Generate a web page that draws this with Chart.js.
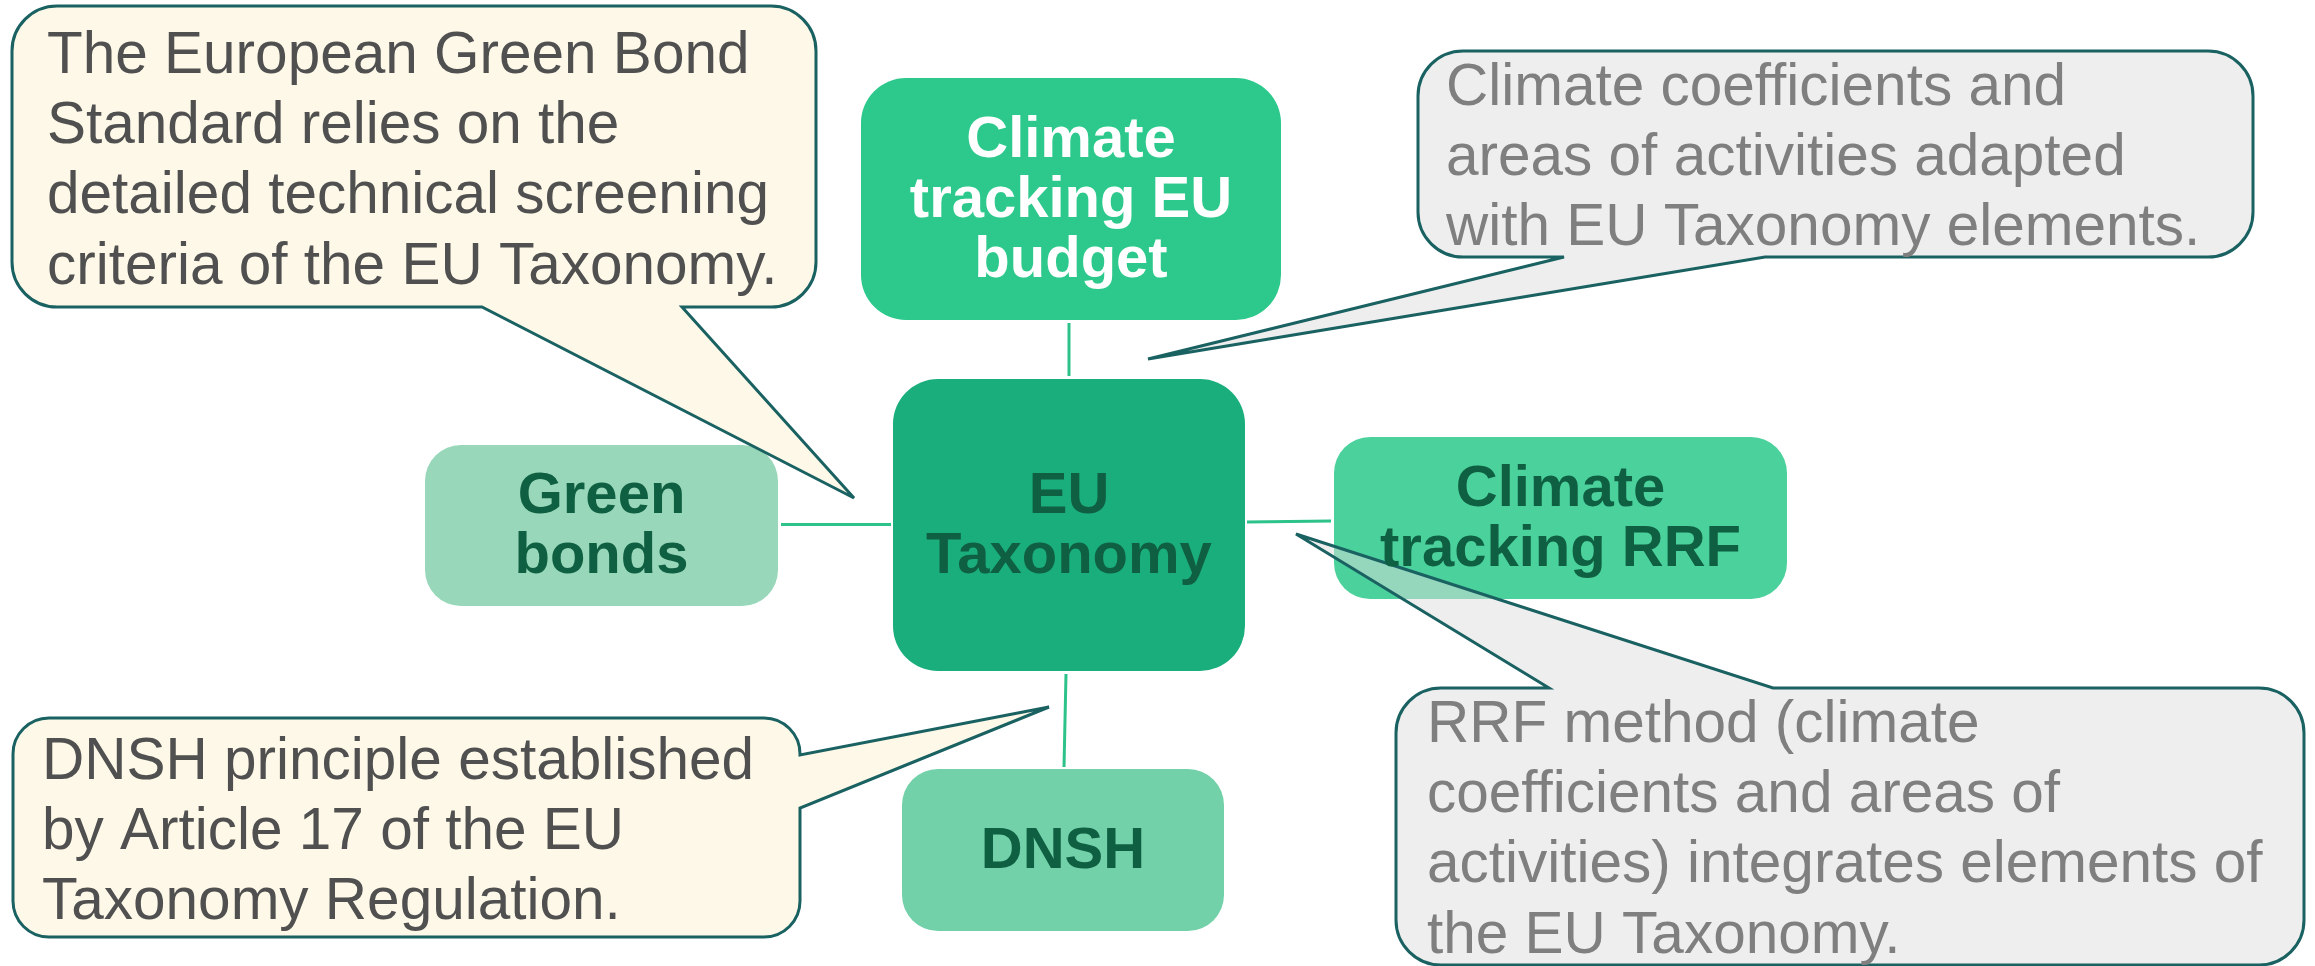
<!DOCTYPE html>
<html>
<head>
<meta charset="utf-8">
<script src="https://cdn.jsdelivr.net/npm/chart.js@4"></script>
<style>
  html, body { margin: 0; padding: 0; background: #ffffff; }
  canvas { display: block; }
</style>
</head>
<body>
<canvas id="c" width="2315" height="966"></canvas>
<script>
// ---------- content ----------
const nodeNames = ["EU Taxonomy", "Climate tracking EU budget", "Green bonds", "Climate tracking RRF", "DNSH"];
const nodeLines = [
  ["EU", "Taxonomy"],
  ["Climate", "tracking EU", "budget"],
  ["Green", "bonds"],
  ["Climate", "tracking RRF"],
  ["DNSH"]
];
const calloutLines = [
  ["The European Green Bond", "Standard relies on the", "detailed technical screening", "criteria of the EU Taxonomy."],
  ["Climate coefficients and", "areas of activities adapted", "with EU Taxonomy elements."],
  ["DNSH principle established", "by Article 17 of the EU", "Taxonomy Regulation."],
  ["RRF method (climate", "coefficients and areas of", "activities) integrates elements of", "the EU Taxonomy."]
];
// links: hub (0) to each satellite node
const linkFrom = [0, 0, 0, 0];
const linkTo   = [1, 2, 3, 4];

// ---------- layout (diagram coordinates, 0..2315 x 0..966) ----------
const nodeBoxes = [ // [left, top, right, bottom, radius]
  [893, 379, 1245, 671, 45],
  [861, 78, 1281, 320, 45],
  [425, 445, 778, 606, 36],
  [1334, 437, 1787, 599, 36],
  [902, 769, 1224, 931, 36]
];
const nodeFill = ["#1bae7d", "#2dc98c", "#98d7b9", "#4bd19c", "#72d1a9"];
const nodeText = ["#0f6042", "#ffffff", "#0f6042", "#0f6042", "#0f6042"];
const linkSegments = [ // [x1,y1,x2,y2] for each link
  [1069, 376, 1069, 323],
  [891, 524.5, 781, 524.5],
  [1247, 522, 1331, 521],
  [1066, 674, 1064, 767]
];
const callouts = [
  {box:[12, 6, 816, 307, 45], side:"bottom", a:482, b:682, tip:[854, 498], fill:"#fdf8e7", text:"#505050", x:47, y0:73},
  {box:[1418, 51, 2253, 257, 45], side:"bottom", a:1564, b:1765, tip:[1148, 359], fill:"#eeeeee", text:"#7f7f7f", x:1446, y0:105},
  {box:[13, 718, 800, 937, 36], side:"right", a:755, b:808, tip:[1049, 707], fill:"#fdf8e7", text:"#505050", x:42, y0:779},
  {box:[1396, 688, 2304, 965, 45], side:"top", a:1549, b:1773, tip:[1296, 534], fill:"rgba(221,221,221,0.5)", text:"#7f7f7f", x:1427, y0:742}
];

const FONT = '"Liberation Sans", Arial, Helvetica, sans-serif';

function roundRectPath(ctx, l, t, r, b, rad) {
  ctx.beginPath();
  ctx.moveTo(l + rad, t);
  ctx.lineTo(r - rad, t);
  ctx.arcTo(r, t, r, t + rad, rad);
  ctx.lineTo(r, b - rad);
  ctx.arcTo(r, b, r - rad, b, rad);
  ctx.lineTo(l + rad, b);
  ctx.arcTo(l, b, l, b - rad, rad);
  ctx.lineTo(l, t + rad);
  ctx.arcTo(l, t, l + rad, t, rad);
  ctx.closePath();
}

function calloutPath(ctx, l, t, r, b, rad, side, a, bb, tx, ty) {
  ctx.beginPath();
  ctx.moveTo(l + rad, t);
  if (side === "top") { ctx.lineTo(a, t); ctx.lineTo(tx, ty); ctx.lineTo(bb, t); }
  ctx.lineTo(r - rad, t);
  ctx.arcTo(r, t, r, t + rad, rad);
  if (side === "right") { ctx.lineTo(r, a); ctx.lineTo(tx, ty); ctx.lineTo(r, bb); }
  ctx.lineTo(r, b - rad);
  ctx.arcTo(r, b, r - rad, b, rad);
  if (side === "bottom") { ctx.lineTo(bb, b); ctx.lineTo(tx, ty); ctx.lineTo(a, b); }
  ctx.lineTo(l + rad, b);
  ctx.arcTo(l, b, l, b - rad, rad);
  ctx.lineTo(l, t + rad);
  ctx.arcTo(l, t, l + rad, t, rad);
  ctx.closePath();
}

const diagramPlugin = {
  id: "diagram",
  afterDatasetsDraw(chart) {
    const ctx = chart.ctx;
    const sx = chart.scales.x, sy = chart.scales.y;
    const X = v => sx.getPixelForValue(v);
    const Y = v => sy.getPixelForValue(v);
    ctx.save();
    // node boxes
    nodeBoxes.forEach((bx, i) => {
      roundRectPath(ctx, X(bx[0]), Y(bx[1]), X(bx[2]), Y(bx[3]), bx[4]);
      ctx.fillStyle = nodeFill[i];
      ctx.fill();
    });
    // callouts
    callouts.forEach((c, i) => {
      const [l, t, r, b, rad] = c.box;
      const isX = c.side !== "right";
      calloutPath(ctx, X(l), Y(t), X(r), Y(b), rad, c.side,
        isX ? X(c.a) : Y(c.a), isX ? X(c.b) : Y(c.b), X(c.tip[0]), Y(c.tip[1]));
      ctx.fillStyle = c.fill;
      ctx.fill();
      ctx.lineWidth = 3;
      ctx.lineJoin = "miter";
      ctx.miterLimit = 4;
      ctx.strokeStyle = "#1a6162";
      ctx.stroke();
      ctx.fillStyle = c.text;
      ctx.font = "58.5px " + FONT;
      ctx.textAlign = "left";
      ctx.textBaseline = "alphabetic";
      calloutLines[i].forEach((line, k) => {
        ctx.fillText(line, X(c.x), Y(c.y0 + k * 70.2));
      });
    });
    // node labels
    nodeBoxes.forEach((bx, i) => {
      const cx = (X(bx[0]) + X(bx[2])) / 2;
      const cy = (Y(bx[1]) + Y(bx[3])) / 2;
      const lines = nodeLines[i];
      const lh = 60;
      ctx.fillStyle = nodeText[i];
      ctx.font = "bold 58px " + FONT;
      ctx.textAlign = "center";
      ctx.textBaseline = "alphabetic";
      lines.forEach((line, k) => {
        const by = cy - (lines.length - 1) * lh / 2 + k * lh + 20.8 - 3;
        ctx.fillText(line, cx, by);
      });
    });
    ctx.restore();
  }
};

const datasets = linkSegments.map((s, i) => ({
  label: nodeNames[linkFrom[i]] + " – " + nodeNames[linkTo[i]],
  data: [{x: s[0], y: s[1]}, {x: s[2], y: s[3]}],
  showLine: true,
  borderColor: "#2cc28a",
  borderWidth: 3,
  pointRadius: 0,
  fill: false
}));

new Chart(document.getElementById("c"), {
  type: "scatter",
  data: { datasets },
  options: {
    responsive: false,
    devicePixelRatio: 1,
    animation: false,
    events: [],
    layout: { padding: 0 },
    plugins: { legend: { display: false }, tooltip: { enabled: false }, title: { display: false } },
    scales: {
      x: { type: "linear", min: 0, max: 2315, display: false },
      y: { type: "linear", min: 0, max: 966, reverse: true, display: false }
    }
  },
  plugins: [diagramPlugin]
});
</script>
</body>
</html>
